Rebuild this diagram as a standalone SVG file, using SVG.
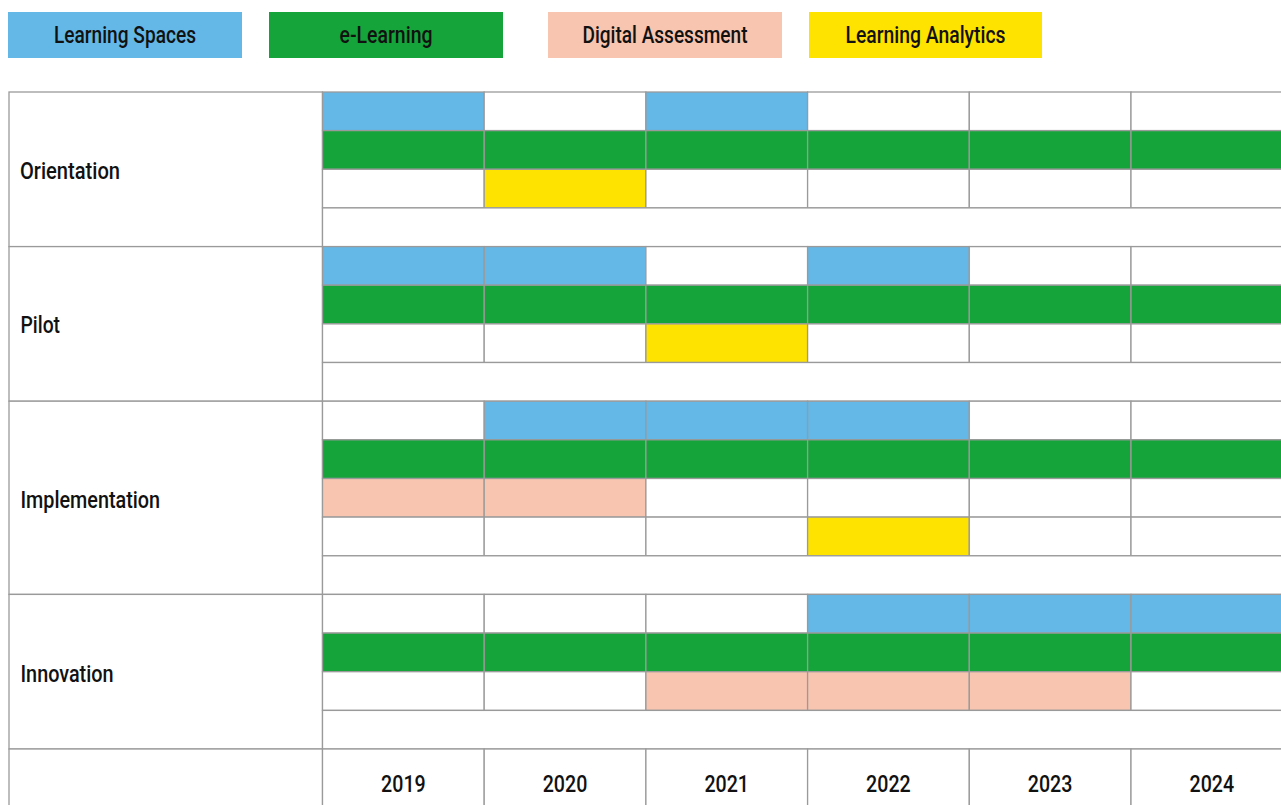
<svg xmlns="http://www.w3.org/2000/svg" width="1281" height="805" viewBox="0 0 1281 805">
<style>
text{font-family:Roboto,"Liberation Sans",sans-serif;font-weight:500;font-size:24px;fill:#111}
.c{text-anchor:middle}
.g{stroke:#9a9a9a;stroke-width:1.3}
.w{fill:#fff}
.b{fill:#63b8e8}
.e{fill:#14a43a}
.s{fill:#f8c5b0}
.y{fill:#ffe300}
</style>
<rect width="1281" height="805" fill="#fff"/>
<g id="legend">
<rect class="b" x="8" y="12" width="234" height="46"/>
<text class="c" x="125" y="43" textLength="142" lengthAdjust="spacingAndGlyphs">Learning Spaces</text>
<rect class="e" x="269" y="12" width="234" height="46"/>
<text class="c" x="386" y="43" textLength="93" lengthAdjust="spacingAndGlyphs">e-Learning</text>
<rect class="s" x="548" y="12" width="234" height="46"/>
<text class="c" x="665" y="43" textLength="165" lengthAdjust="spacingAndGlyphs">Digital Assessment</text>
<rect class="y" x="809" y="12" width="233" height="46"/>
<text class="c" x="925.5" y="43" textLength="160" lengthAdjust="spacingAndGlyphs">Learning Analytics</text>
</g>
<g id="labels">
<rect class="w g" x="9" y="92" width="313.5" height="154.6"/>
<text x="20" y="178.5" textLength="100" lengthAdjust="spacingAndGlyphs">Orientation</text>
<rect class="w g" x="9" y="246.6" width="313.5" height="154.6"/>
<text x="20.5" y="333" textLength="39.5" lengthAdjust="spacingAndGlyphs">Pilot</text>
<rect class="w g" x="9" y="401.2" width="313.5" height="193.2"/>
<text x="20.5" y="507.5" textLength="139.5" lengthAdjust="spacingAndGlyphs">Implementation</text>
<rect class="w g" x="9" y="594.4" width="313.5" height="154.6"/>
<text x="20.5" y="682" textLength="93" lengthAdjust="spacingAndGlyphs">Innovation</text>
<rect class="w g" x="9" y="749" width="313.5" height="70"/>
</g>
<g id="orientation">
<rect class="b g" x="322.5" y="92" width="161.7" height="38.6"/>
<rect class="w g" x="484.2" y="92" width="161.7" height="38.6"/>
<rect class="b g" x="645.9" y="92" width="161.7" height="38.6"/>
<rect class="w g" x="807.6" y="92" width="161.7" height="38.6"/>
<rect class="w g" x="969.3" y="92" width="161.7" height="38.6"/>
<rect class="w g" x="1131" y="92" width="161.7" height="38.6"/>
<rect class="e g" x="322.5" y="130.6" width="161.7" height="38.7"/>
<rect class="e g" x="484.2" y="130.6" width="161.7" height="38.7"/>
<rect class="e g" x="645.9" y="130.6" width="161.7" height="38.7"/>
<rect class="e g" x="807.6" y="130.6" width="161.7" height="38.7"/>
<rect class="e g" x="969.3" y="130.6" width="161.7" height="38.7"/>
<rect class="e g" x="1131" y="130.6" width="161.7" height="38.7"/>
<rect class="w g" x="322.5" y="169.3" width="161.7" height="38.6"/>
<rect class="y g" x="484.2" y="169.3" width="161.7" height="38.6"/>
<rect class="w g" x="645.9" y="169.3" width="161.7" height="38.6"/>
<rect class="w g" x="807.6" y="169.3" width="161.7" height="38.6"/>
<rect class="w g" x="969.3" y="169.3" width="161.7" height="38.6"/>
<rect class="w g" x="1131" y="169.3" width="161.7" height="38.6"/>
<rect class="w g" x="322.5" y="207.9" width="970" height="38.7"/>
</g>
<g id="pilot">
<rect class="b g" x="322.5" y="246.6" width="161.7" height="38.6"/>
<rect class="b g" x="484.2" y="246.6" width="161.7" height="38.6"/>
<rect class="w g" x="645.9" y="246.6" width="161.7" height="38.6"/>
<rect class="b g" x="807.6" y="246.6" width="161.7" height="38.6"/>
<rect class="w g" x="969.3" y="246.6" width="161.7" height="38.6"/>
<rect class="w g" x="1131" y="246.6" width="161.7" height="38.6"/>
<rect class="e g" x="322.5" y="285.2" width="161.7" height="38.7"/>
<rect class="e g" x="484.2" y="285.2" width="161.7" height="38.7"/>
<rect class="e g" x="645.9" y="285.2" width="161.7" height="38.7"/>
<rect class="e g" x="807.6" y="285.2" width="161.7" height="38.7"/>
<rect class="e g" x="969.3" y="285.2" width="161.7" height="38.7"/>
<rect class="e g" x="1131" y="285.2" width="161.7" height="38.7"/>
<rect class="w g" x="322.5" y="323.9" width="161.7" height="38.6"/>
<rect class="w g" x="484.2" y="323.9" width="161.7" height="38.6"/>
<rect class="y g" x="645.9" y="323.9" width="161.7" height="38.6"/>
<rect class="w g" x="807.6" y="323.9" width="161.7" height="38.6"/>
<rect class="w g" x="969.3" y="323.9" width="161.7" height="38.6"/>
<rect class="w g" x="1131" y="323.9" width="161.7" height="38.6"/>
<rect class="w g" x="322.5" y="362.5" width="970" height="38.7"/>
</g>
<g id="implementation">
<rect class="w g" x="322.5" y="401.2" width="161.7" height="38.6"/>
<rect class="b g" x="484.2" y="401.2" width="161.7" height="38.6"/>
<rect class="b g" x="645.9" y="401.2" width="161.7" height="38.6"/>
<rect class="b g" x="807.6" y="401.2" width="161.7" height="38.6"/>
<rect class="w g" x="969.3" y="401.2" width="161.7" height="38.6"/>
<rect class="w g" x="1131" y="401.2" width="161.7" height="38.6"/>
<rect class="e g" x="322.5" y="439.8" width="161.7" height="38.7"/>
<rect class="e g" x="484.2" y="439.8" width="161.7" height="38.7"/>
<rect class="e g" x="645.9" y="439.8" width="161.7" height="38.7"/>
<rect class="e g" x="807.6" y="439.8" width="161.7" height="38.7"/>
<rect class="e g" x="969.3" y="439.8" width="161.7" height="38.7"/>
<rect class="e g" x="1131" y="439.8" width="161.7" height="38.7"/>
<rect class="s g" x="322.5" y="478.5" width="161.7" height="38.6"/>
<rect class="s g" x="484.2" y="478.5" width="161.7" height="38.6"/>
<rect class="w g" x="645.9" y="478.5" width="161.7" height="38.6"/>
<rect class="w g" x="807.6" y="478.5" width="161.7" height="38.6"/>
<rect class="w g" x="969.3" y="478.5" width="161.7" height="38.6"/>
<rect class="w g" x="1131" y="478.5" width="161.7" height="38.6"/>
<rect class="w g" x="322.5" y="517.1" width="161.7" height="38.7"/>
<rect class="w g" x="484.2" y="517.1" width="161.7" height="38.7"/>
<rect class="w g" x="645.9" y="517.1" width="161.7" height="38.7"/>
<rect class="y g" x="807.6" y="517.1" width="161.7" height="38.7"/>
<rect class="w g" x="969.3" y="517.1" width="161.7" height="38.7"/>
<rect class="w g" x="1131" y="517.1" width="161.7" height="38.7"/>
<rect class="w g" x="322.5" y="555.8" width="970" height="38.6"/>
</g>
<g id="innovation">
<rect class="w g" x="322.5" y="594.4" width="161.7" height="38.7"/>
<rect class="w g" x="484.2" y="594.4" width="161.7" height="38.7"/>
<rect class="w g" x="645.9" y="594.4" width="161.7" height="38.7"/>
<rect class="b g" x="807.6" y="594.4" width="161.7" height="38.7"/>
<rect class="b g" x="969.3" y="594.4" width="161.7" height="38.7"/>
<rect class="b g" x="1131" y="594.4" width="161.7" height="38.7"/>
<rect class="e g" x="322.5" y="633.1" width="161.7" height="38.6"/>
<rect class="e g" x="484.2" y="633.1" width="161.7" height="38.6"/>
<rect class="e g" x="645.9" y="633.1" width="161.7" height="38.6"/>
<rect class="e g" x="807.6" y="633.1" width="161.7" height="38.6"/>
<rect class="e g" x="969.3" y="633.1" width="161.7" height="38.6"/>
<rect class="e g" x="1131" y="633.1" width="161.7" height="38.6"/>
<rect class="w g" x="322.5" y="671.7" width="161.7" height="38.7"/>
<rect class="w g" x="484.2" y="671.7" width="161.7" height="38.7"/>
<rect class="s g" x="645.9" y="671.7" width="161.7" height="38.7"/>
<rect class="s g" x="807.6" y="671.7" width="161.7" height="38.7"/>
<rect class="s g" x="969.3" y="671.7" width="161.7" height="38.7"/>
<rect class="w g" x="1131" y="671.7" width="161.7" height="38.7"/>
<rect class="w g" x="322.5" y="710.4" width="970" height="38.6"/>
</g>
<g id="years">
<rect class="w g" x="322.5" y="749" width="161.7" height="70"/>
<rect class="w g" x="484.2" y="749" width="161.7" height="70"/>
<rect class="w g" x="645.9" y="749" width="161.7" height="70"/>
<rect class="w g" x="807.6" y="749" width="161.7" height="70"/>
<rect class="w g" x="969.3" y="749" width="161.7" height="70"/>
<rect class="w g" x="1131" y="749" width="161.7" height="70"/>
<text class="c" x="403.4" y="791.5" textLength="44.6" lengthAdjust="spacingAndGlyphs">2019</text>
<text class="c" x="565" y="791.5" textLength="44.6" lengthAdjust="spacingAndGlyphs">2020</text>
<text class="c" x="726.7" y="791.5" textLength="44.6" lengthAdjust="spacingAndGlyphs">2021</text>
<text class="c" x="888.4" y="791.5" textLength="44.6" lengthAdjust="spacingAndGlyphs">2022</text>
<text class="c" x="1050.1" y="791.5" textLength="44.6" lengthAdjust="spacingAndGlyphs">2023</text>
<text class="c" x="1211.8" y="791.5" textLength="44.6" lengthAdjust="spacingAndGlyphs">2024</text>
</g>
</svg>
